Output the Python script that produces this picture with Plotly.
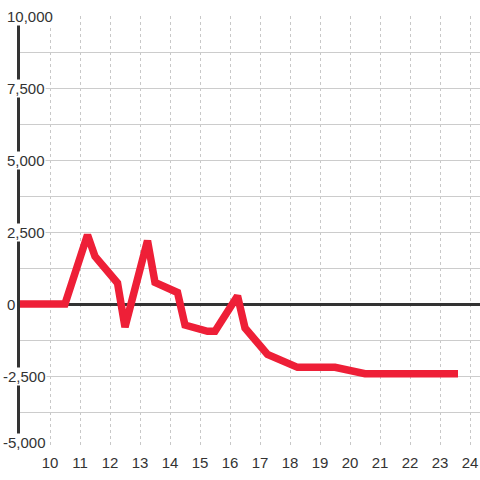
import plotly.graph_objects as go

# hours of the day vs. value
hours = [8.9, 10.5, 11.25, 11.5, 12.25, 12.5, 13.25, 13.5, 14.25, 14.5,
         15.25, 15.5, 16.25, 16.5, 17.25, 18.25, 19.5, 20.5, 23.6]
values = [0, 0, 2400, 1650, 730, -800, 2200, 750, 400, -730,
          -950, -950, 280, -830, -1750, -2200, -2200, -2420, -2420]

y_ticks = [10000, 7500, 5000, 2500, 0, -2500, -5000]
x_ticks = list(range(10, 25))

FONT = "Liberation Sans, Arial, sans-serif"
TEXT = "#333333"

fig = go.Figure()
fig.add_trace(go.Scatter(
    x=hours, y=values, mode="lines",
    line=dict(color="#ee1f37", width=7.5),
    hoverinfo="skip", cliponaxis=False,
))

# y labels sit over the axis line with a white box behind them
for v in y_ticks:
    fig.add_annotation(
        xref="paper", yref="y", x=-0.03 if v >= 0 else -0.039, y=v,
        text=f"{v:,}", showarrow=False, xanchor="left", yanchor="middle",
        yshift=6 if v == y_ticks[-1] else 0,
        bgcolor="white", borderpad=0,
        font=dict(family=FONT, size=15, color=TEXT),
    )

fig.update_layout(
    width=480, height=480,
    margin=dict(l=20, r=0, t=16, b=32, autoexpand=False),
    paper_bgcolor="white", plot_bgcolor="white",
    showlegend=False,
    xaxis=dict(
        range=[9, 9 + 460 / 30],
        tickvals=x_ticks,
        showgrid=True, gridcolor="#c8c8c8", griddash="dot", gridwidth=1,
        zeroline=False, showline=False,
        ticks="outside", ticklen=1, tickcolor="rgba(0,0,0,0)",
        tickfont=dict(family=FONT, size=15, color=TEXT),
    ),
    yaxis=dict(
        range=[-5000, 10000],
        dtick=1250, tick0=0,
        showticklabels=False,
        showgrid=True, gridcolor="#cccccc", gridwidth=1,
        zeroline=True, zerolinecolor="#333333", zerolinewidth=3,
        showline=True, linecolor="#333333", linewidth=3,
        ticks="",
    ),
)

# drop the default body margin so the chart fills the window
fig.write_html("out.html", config={"displayModeBar": False},
               post_script="document.body.style.margin='0';")
